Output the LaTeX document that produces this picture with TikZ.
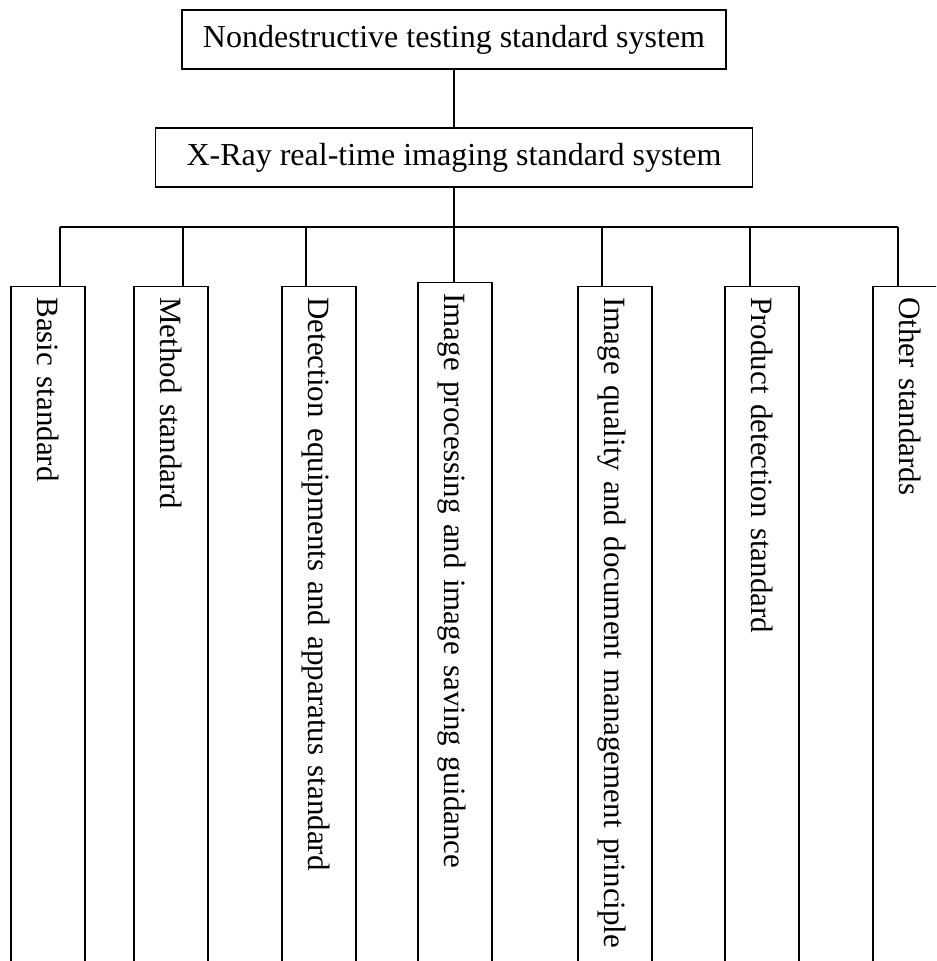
\documentclass[tikz,border=0pt]{standalone}
\usepackage{fontspec}
\setmainfont{Liberation Serif}
\begin{document}
\begin{tikzpicture}[x=0.75pt, y=-0.75pt, line width=1.1pt,
  font=\fontsize{23.25}{28}\selectfont,
  hbox/.style={draw, minimum height=44.25pt, inner sep=0pt, font=\fontsize{24}{29}\selectfont},
  vbox/.style={draw, rotate=-90, anchor=west, minimum height=55.5pt,
    text width=540pt, inner xsep=8pt, inner ysep=0pt, align=left,
    text height=20pt, text depth=3.5pt}]
\useasboundingbox (0,0) rectangle (936,961);
\clip (0,0) rectangle (936,961);
\node[hbox, minimum width=408pt] (root) at (454,39.5) {Nondestructive testing standard system};
\node[hbox, minimum width=447.75pt] (sys) at (454,157.5) {X-Ray real-time imaging standard system};
\coordinate (b1) at (60,227);
\coordinate (b2) at (183,227);
\coordinate (b3) at (306,227);
\coordinate (b4) at (454,227);
\coordinate (b5) at (602,227);
\coordinate (b6) at (750,227);
\coordinate (b7) at (898,227);
\node[vbox] (c1) at (48,286) {Basic standard};
\node[vbox] (c2) at (171,286) {Method standard};
\node[vbox] (c3) at (319,286) {Detection equipments and apparatus standard};
\node[vbox] (c4) at (455,282) {Image processing and image saving guidance};
\node[vbox] (c5) at (615,286) {Image quality and document management principle};
\node[vbox] (c6) at (762,286) {Product detection standard};
\node[vbox] (c7) at (910,286) {Other standards};
\draw (root.south) -- (sys.north);
\draw (sys.south) -- (b4);
\draw (b1) -- (b7);
\foreach \i in {1,...,7} {\draw (b\i) -- (b\i |- c\i.west);}
\end{tikzpicture}
\end{document}
